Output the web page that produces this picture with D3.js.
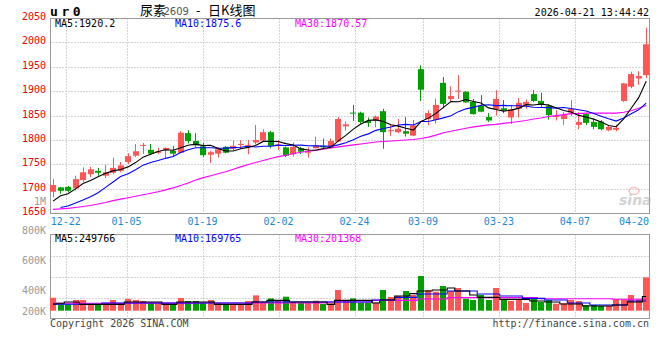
<!DOCTYPE html>
<html><head><meta charset="utf-8">
<script src="https://cdn.jsdelivr.net/npm/d3@7"></script>
<style>body{margin:0;background:#fff}svg{display:block}</style>
</head><body>
<svg id="c" width="660" height="360"></svg>
<script>
const dates=["12-18","12-19","12-22","12-23","12-24","12-25","12-26","12-29","12-30","12-31","01-05","01-06","01-07","01-08","01-09","01-12","01-13","01-14","01-15","01-16","01-19","01-20","01-21","01-22","01-23","01-26","01-27","01-28","01-29","01-30","02-02","02-03","02-04","02-05","02-06","02-09","02-10","02-11","02-12","02-13","02-24","02-25","02-26","02-27","03-02","03-03","03-04","03-05","03-06","03-09","03-10","03-11","03-12","03-13","03-16","03-17","03-18","03-19","03-20","03-23","03-24","03-25","03-26","03-27","03-30","03-31","04-01","04-02","04-03","04-07","04-08","04-09","04-10","04-13","04-14","04-15","04-16","04-17","04-20","04-21"];
const open=[1694,1703,1704,1701,1718,1730,1737,1727,1733,1737,1755,1768,1789,1780,1774,1779,1778,1774,1814,1798,1787,1770,1772,1786,1782,1791,1786,1795,1799,1816,1790,1785,1771,1783,1774,1783,1788,1786,1797,1828,1856,1856,1839,1840,1859,1818,1816,1818,1809,1945,1843,1841,1917,1884,1900,1899,1878,1870,1847,1863,1865,1846,1864,1872,1894,1880,1870,1847,1843,1856,1831,1853,1837,1838,1820,1821,1880,1909,1926,1933];
const high=[1720,1704,1706,1727,1744,1745,1743,1749,1764,1755,1773,1792,1794,1792,1784,1785,1788,1818,1820,1814,1794,1778,1785,1788,1799,1800,1800,1831,1822,1819,1800,1787,1795,1786,1785,1807,1803,1803,1847,1838,1872,1858,1846,1850,1864,1831,1843,1847,1841,1953,1861,1885,1929,1910,1933,1900,1884,1892,1855,1902,1882,1872,1886,1883,1902,1897,1873,1861,1857,1882,1857,1855,1844,1841,1829,1831,1917,1940,1941,2030];
const low=[1683,1690,1693,1697,1714,1724,1727,1722,1730,1734,1751,1765,1771,1769,1771,1761,1767,1773,1793,1786,1765,1753,1764,1773,1779,1782,1771,1791,1798,1783,1780,1765,1766,1771,1764,1783,1781,1783,1796,1819,1839,1834,1827,1826,1782,1808,1814,1807,1808,1880,1830,1834,1865,1878,1884,1876,1852,1857,1837,1850,1855,1833,1846,1864,1878,1868,1842,1840,1831,1849,1822,1831,1822,1820,1818,1818,1878,1906,1913,1927];
const close=[1708,1696,1696,1720,1734,1740,1733,1734,1743,1748,1767,1777,1790,1772,1777,1784,1772,1815,1798,1789,1769,1775,1781,1774,1788,1792,1790,1800,1816,1788,1791,1768,1786,1776,1777,1789,1785,1798,1843,1832,1854,1837,1835,1848,1816,1820,1823,1813,1830,1903,1855,1872,1874,1890,1901,1877,1853,1858,1840,1884,1861,1863,1876,1878,1880,1872,1851,1849,1851,1864,1837,1835,1827,1822,1827,1825,1916,1935,1931,1996];
const ma5=[1675,1686,1690,1700,1710.8,1717.2,1724.6,1732.2,1736.8,1739.6,1745.0,1753.8,1765.0,1770.8,1776.6,1780.0,1779.0,1784.0,1789.2,1791.6,1788.6,1789.2,1782.4,1777.6,1777.4,1782.0,1785.0,1788.8,1797.2,1797.2,1797.0,1792.6,1789.8,1781.8,1779.6,1779.2,1782.6,1785.0,1798.4,1809.4,1822.4,1832.8,1840.2,1841.2,1838.0,1831.2,1828.4,1824.0,1820.4,1837.8,1844.8,1854.6,1866.8,1878.8,1878.4,1882.8,1879.0,1875.8,1865.8,1862.4,1859.2,1861.2,1864.8,1872.4,1871.6,1873.8,1871.4,1866.0,1860.6,1857.4,1850.4,1847.2,1842.8,1837.0,1829.6,1827.2,1843.4,1865.0,1886.8,1920.2];
const ma10=[null,1662,1665,1671,1677,1684,1692,1703,1714,1725.2,1731.1,1739.2,1748.6,1753.8,1758.1,1762.5,1766.4,1774.5,1780.0,1784.1,1784.3,1784.1,1783.2,1783.4,1784.5,1785.3,1787.1,1785.6,1787.4,1787.3,1789.5,1788.8,1789.3,1789.5,1788.4,1788.1,1787.6,1787.4,1790.1,1794.5,1800.8,1807.7,1812.6,1819.8,1823.7,1826.8,1830.6,1832.1,1830.8,1837.9,1838.0,1841.5,1845.4,1849.6,1858.1,1863.8,1866.8,1871.3,1872.3,1870.4,1871.0,1870.1,1870.3,1869.1,1867.0,1866.5,1866.3,1865.4,1866.5,1864.5,1862.1,1859.3,1854.4,1848.8,1843.5,1838.8,1845.3,1853.9,1861.9,1875.6];
const ma30=[1658,1659,1660,1662,1664,1666,1669,1672,1676,1679,1682,1685,1688,1691,1694,1698,1702,1707,1712,1718,1723,1727,1731,1735,1740,1745,1750,1754,1758,1762,1766,1769,1772,1775,1777,1779,1781,1784,1786,1788,1790,1792,1794,1796,1797,1798,1799,1800,1801,1803,1806,1810,1815,1818,1821,1824,1827,1829,1831,1832,1834,1836,1838,1840,1843,1845,1848,1850,1852,1854,1854,1855,1855,1855,1855,1855,1857,1860,1865,1870.57];
const volume=[227000,110000,110000,187000,187000,110000,110000,135000,187000,135000,205000,187000,170000,135000,135000,135000,110000,222000,170000,170000,135000,187000,135000,117000,117000,117000,170000,268000,135000,215000,187000,245000,152000,135000,135000,175000,117000,128000,362000,187000,215000,140000,140000,140000,362000,240000,257000,345000,275000,607000,362000,332000,432000,345000,397000,210000,187000,275000,187000,397000,187000,170000,187000,135000,205000,152000,187000,122000,128000,187000,170000,100000,100000,82000,82000,205000,198000,275000,198000,583000];
const vma5=[117000,131000,152000,152000,110000,110000,110000,110000,110000,110000,152000,152000,152000,152000,152000,110000,110000,152000,152000,152000,152000,152000,110000,110000,110000,110000,110000,152000,152000,180000,180000,180000,152000,152000,152000,152000,152000,110000,180000,180000,180000,180000,180000,135000,187000,187000,257000,257000,298000,345000,345000,362000,362000,397000,345000,345000,275000,233000,233000,233000,198000,198000,198000,198000,170000,170000,152000,152000,117000,117000,117000,82000,82000,82000,82000,100000,100000,152000,152000,249766];
const vma10=[114000,114000,114000,114000,114000,114000,114000,135000,135000,135000,135000,135000,135000,135000,135000,135000,135000,135000,135000,135000,135000,135000,135000,135000,135000,135000,135000,152000,152000,152000,152000,152000,152000,152000,152000,152000,152000,152000,152000,152000,152000,152000,152000,187000,187000,187000,233000,233000,233000,292000,292000,292000,292000,345000,345000,345000,345000,292000,292000,292000,257000,257000,257000,215000,215000,215000,187000,187000,187000,135000,135000,135000,100000,100000,100000,100000,100000,170000,170000,169765];
const vma30=[130000,130000,130000,130000,130000,130000,130000,130000,130000,130000,130000,132000,132000,132000,132000,132000,132000,132000,132000,132000,135000,135000,135000,135000,135000,135000,135000,135000,135000,135000,135000,135000,135000,135000,135000,135000,135000,152000,152000,152000,152000,152000,152000,180000,180000,180000,180000,180000,180000,205000,205000,205000,205000,228000,228000,228000,228000,228000,228000,228000,228000,228000,228000,228000,228000,210000,210000,210000,210000,210000,210000,210000,210000,210000,210000,201000,201000,201000,201000,201368];
const priceTicks=[1650,1700,1750,1800,1850,1900,1950,2000,2050];
const volTicks=[800000,600000,400000,200000];
const volTickLabels=["800K","600K","400K","200K"];
const dateTicks=["12-22","01-05","01-19","02-02","02-24","03-09","03-23","04-07","04-20"];

const svg=d3.select('#c');
const MONO="'DejaVu Sans Mono', monospace";
const CJK="'Noto Sans CJK SC', sans-serif";
const RED="#ff5555", GREEN="#00a000", GRID="#aaaaaa", BORDER="#999999";
const n=dates.length;
const L=50.5,R=649.5,T=18.5,B=213.5,VT=234.5,VB=318.5;
const x=d3.scaleLinear().domain([0,n-1]).range([53,646.2]);
const gx=d3.scaleLinear().domain([0,n-1]).range([50.6,650.9]);
const y=d3.scaleLinear().domain([1650,2050]).range([213.3,17.9]);
const yv=d3.scaleLinear().domain([0,800000]).range([310.7,310.7-800000/17500]);
const yvLab=d3.scaleLinear().domain([200000,400000,600000,800000]).range([311,290.5,260.3,230]);
const px=v=>Math.round(v)+0.5;

// grid
const g=svg.append('g');
priceTicks.slice(1,-1).forEach(p=>{
  g.append('line').attr('x1',L).attr('x2',R).attr('y1',px(y(p))).attr('y2',px(y(p)))
   .attr('stroke',GRID).attr('stroke-dasharray','1,2');
});
[1,2,3].forEach(k=>{
  const yy=px(VT+(VB-VT)*k/4);
  g.append('line').attr('x1',L).attr('x2',R).attr('y1',yy).attr('y2',yy)
   .attr('stroke',GRID).attr('stroke-dasharray','1,2');
});
const tickIdx=dateTicks.map(d=>dates.indexOf(d));
tickIdx.forEach((i,k)=>{
  const gxx=gx(i);
  if(gxx<R-10){
    [[T,B],[VT,VB]].forEach(([a,b])=>{
      g.append('line').attr('x1',px(gxx)).attr('x2',px(gxx)).attr('y1',a).attr('y2',b)
       .attr('stroke',GRID).attr('stroke-dasharray','1,2');
    });
  }
  const tx=Math.min(gxx,R-15.5);
  svg.append('text').attr('x',tx).attr('y',225).attr('text-anchor','middle')
    .attr('font-family',MONO).attr('font-size',10).attr('fill','#1a88d8').text(dateTicks[k]);
});

// borders
[[T,B],[VT,VB]].forEach(([a,b])=>{
  svg.append('rect').attr('x',L).attr('y',a).attr('width',R-L).attr('height',b-a)
    .attr('fill','none').attr('stroke',BORDER).attr('stroke-width',1);
});

// watermark
const wm=svg.append('g').attr('opacity',0.55);
wm.append('ellipse').attr('cx',634).attr('cy',191).attr('rx',5).attr('ry',3.5).attr('fill','none').attr('stroke','#e89090').attr('stroke-width',1.5);
wm.append('text').attr('x',619).attr('y',205).attr('font-family','DejaVu Sans').attr('font-weight','bold').attr('font-style','italic').attr('font-size',14).attr('fill','#b0b0b0').text('sina');

// candles
const idx=d3.range(n);
const col=i=>close[i]>=open[i]?RED:GREEN;
const cg=svg.append('g');
cg.selectAll('line.w').data(idx).join('line')
  .attr('x1',i=>px(x(i)-0.5)).attr('x2',i=>px(x(i)-0.5))
  .attr('y1',i=>y(high[i])).attr('y2',i=>y(low[i])).attr('stroke',col);
cg.selectAll('rect.b').data(idx).join('rect')
  .attr('x',i=>Math.round(x(i))-3).attr('width',6)
  .attr('y',i=>y(Math.max(open[i],close[i])))
  .attr('height',i=>Math.max(1,y(Math.min(open[i],close[i]))-y(Math.max(open[i],close[i]))))
  .attr('fill',col);

// MA lines
const lineP=d3.line().defined(d=>d[1]!=null).x(d=>x(d[0])).y(d=>y(d[1]));
[[ma30,'#ff00ff'],[ma10,'#0000ff'],[ma5,'#000000']].forEach(([arr,c])=>{
  svg.append('path').attr('d',lineP(arr.map((v,i)=>[i,v]))).attr('fill','none').attr('stroke',c).attr('stroke-width',1.1);
});

// volume bars
const vg=svg.append('g');
vg.selectAll('rect').data(idx).join('rect')
  .attr('x',i=>Math.round(x(i))-3).attr('width',6)
  .attr('y',i=>yv(volume[i])).attr('height',i=>yv(0)-yv(volume[i]))
  .attr('fill',col);
const lineV=d3.line().x(d=>x(d[0])).y(d=>yv(d[1])).curve(d3.curveStep);
[[vma30,'#ff00ff'],[vma10,'#0000ff'],[vma5,'#000000']].forEach(([arr,c])=>{
  svg.append('path').attr('d',lineV(arr.map((v,i)=>[i,v]))).attr('fill','none').attr('stroke',c).attr('stroke-width',1.1);
});

// axis labels
priceTicks.forEach(p=>{
  svg.append('text').attr('x',46).attr('y',y(p)+2).attr('text-anchor','end')
    .attr('font-family',MONO).attr('font-size',10).attr('fill','#ee0000').text(p);
});
svg.append('text').attr('x',46).attr('y',204.5).attr('text-anchor','end')
  .attr('font-family',MONO).attr('font-size',10).attr('fill','#999').text('1M');
volTicks.forEach((v,k)=>{
  svg.append('text').attr('x',46).attr('y',yvLab(v)+3.6).attr('text-anchor','end')
    .attr('font-family',MONO).attr('font-size',10).attr('fill','#999').text(volTickLabels[k]);
});

// header
svg.append('text').attr('x',50).attr('y',15.5).attr('font-family',MONO).attr('font-weight','bold')
  .attr('font-size',13).attr('letter-spacing',3.6).attr('fill','#000').text('ur0');
const title=[['尿素',140,CJK,13,'#000'],['2609',163.5,"'DejaVu Sans', sans-serif",10,'#555'],['-',196,CJK,13,'#000'],['日K线图',208,CJK,13,'#000']];
title.forEach(([t,xx,f,s,c])=>svg.append('text').attr('x',xx).attr('y',15).attr('font-family',f)
  .attr('font-size',s).attr('fill',c).text(t));
svg.append('text').attr('x',649).attr('y',16).attr('text-anchor','end').attr('font-family',MONO)
  .attr('font-size',10).attr('fill','#000').text('2026-04-21 13:44:42');

const last=n-1;
const leg=[['MA5:'+ma5[last].toFixed(1),'#000',55],['MA10:'+ma10[last].toFixed(1),'#0000ff',175],['MA30:'+ma30[last].toFixed(2),'#ff00ff',295]];
leg.forEach(([t,c,xx])=>svg.append('text').attr('x',xx).attr('y',27).attr('font-family',MONO).attr('font-size',10).attr('fill',c).text(t));
const vleg=[['MA5:'+vma5[last],'#000',55],['MA10:'+vma10[last],'#0000ff',175],['MA30:'+vma30[last],'#ff00ff',295]];
vleg.forEach(([t,c,xx])=>svg.append('text').attr('x',xx).attr('y',242).attr('font-family',MONO).attr('font-size',10).attr('fill',c).text(t));

svg.append('text').attr('x',50).attr('y',326.5).attr('font-family',MONO).attr('font-size',10).attr('fill','#444').text('Copyright 2026 SINA.COM');
svg.append('text').attr('x',649).attr('y',327).attr('text-anchor','end').attr('font-family',MONO).attr('font-size',10).attr('fill','#444').text('http://finance.sina.com.cn');
</script>
</body></html>
